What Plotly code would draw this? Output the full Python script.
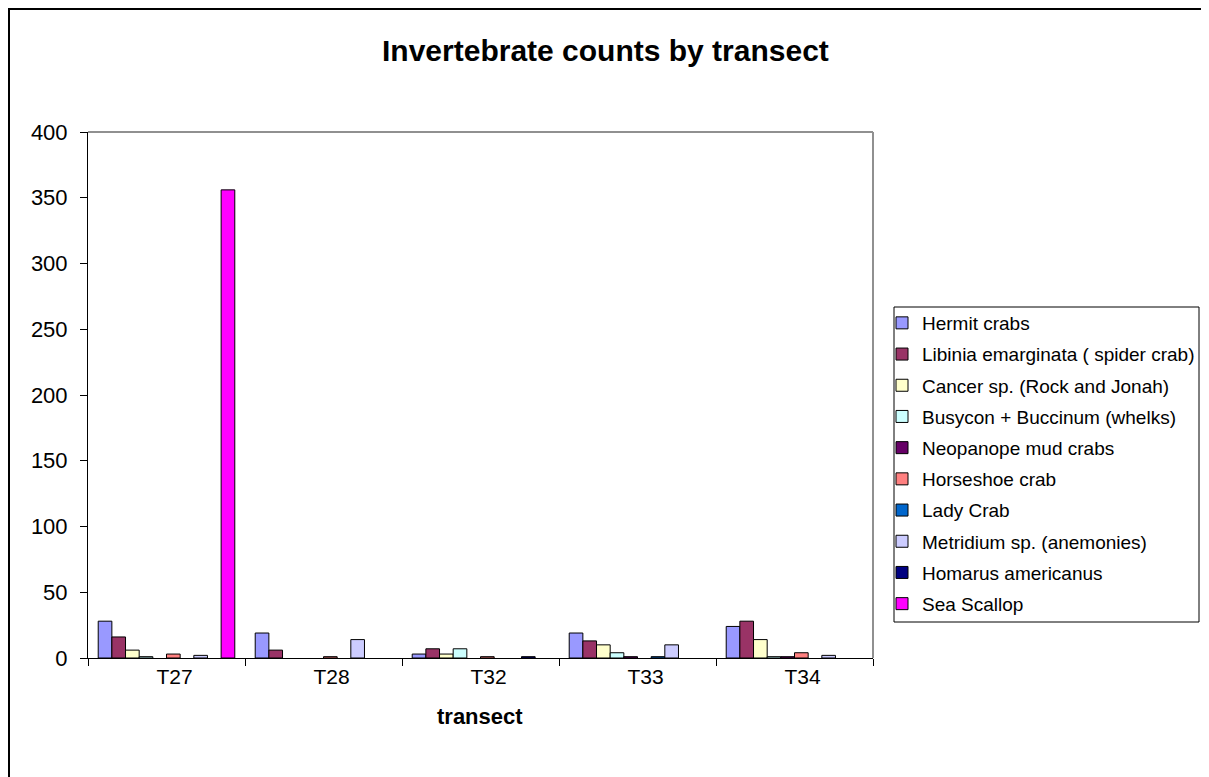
import plotly.graph_objects as go

transects = ["T27", "T28", "T32", "T33", "T34"]
series_names = [
    "Hermit crabs",
    "Libinia emarginata ( spider crab)",
    "Cancer sp. (Rock and Jonah)",
    "Busycon + Buccinum (whelks)",
    "Neopanope mud crabs",
    "Horseshoe crab",
    "Lady Crab",
    "Metridium sp. (anemonies)",
    "Homarus americanus",
    "Sea Scallop",
]
hermit = [28, 19, 3, 19, 24]
libinia = [16, 6, 7, 13, 28]
cancer = [6, 0, 3, 10, 14]
busycon = [1, 0, 7, 4, 1]
neopanope = [0, 0, 0, 1, 1]
horseshoe = [3, 1, 1, 0, 4]
lady = [0, 0, 0, 1, 0]
metridium = [2, 14, 0, 10, 2]
homarus = [0, 0, 1, 0, 0]
scallop = [356, 0, 0, 0, 0]
series_values = [hermit, libinia, cancer, busycon, neopanope, horseshoe,
                 lady, metridium, homarus, scallop]
colors = ["#9999FF", "#993366", "#FFFFCC", "#CCFFFF", "#660066",
          "#FF8080", "#0066CC", "#CCCCFF", "#000080", "#FF00FF"]
y_ticks = [0, 50, 100, 150, 200, 250, 300, 350, 400]

FONT = "Liberation Sans, Arial, sans-serif"

fig = go.Figure()
for i, (name, vals, col) in enumerate(zip(series_names, series_values, colors)):
    fig.add_trace(go.Bar(
        x=transects, y=[v if v else None for v in vals], name=name,
        legendgroup=f"g{i}",
        marker=dict(color=col, line=dict(color="black", width=1)),
    ))

# page offset (body margin) of 8px
OFF = 8
W, H = 1209 - OFF, 777 - OFF
L, R, T, B = 88 - OFF, 873 - OFF, 132 - OFF, 658 - OFF
pw, ph = R - L, B - T


def px(x):  # page x -> paper x
    return (x - OFF - L) / pw


def py(y):  # page y -> paper y
    return (B - (y - OFF)) / ph


fig.update_layout(
    width=W, height=H,
    margin=dict(l=L, r=W - R, t=T, b=H - B, autoexpand=False),
    paper_bgcolor="white", plot_bgcolor="white",
    barmode="group", bargap=0.13, bargroupgap=0,
    font=dict(family=FONT, color="black"),
    showlegend=True,
    legend=dict(
        x=px(882), y=py(304), xanchor="left", yanchor="top",
        borderwidth=0, bgcolor="rgba(0,0,0,0)",
        font=dict(size=19, family=FONT),
        traceorder="grouped", tracegroupgap=3.5,
        itemwidth=30,
    ),
    xaxis=dict(
        type="category", showline=True, linecolor="black", linewidth=1,
        ticks="outside", ticklen=7, tickcolor="black", tickson="boundaries",
        tickfont=dict(size=21, family=FONT), showgrid=False,
        zeroline=False, ticklabelshift=8,
    ),
    yaxis=dict(
        range=[0, 400], tickvals=y_ticks, showline=True, linecolor="black",
        linewidth=1, ticks="outside", ticklen=7, tickcolor="black",
        tickfont=dict(size=22, family=FONT), showgrid=False, zeroline=False,
        ticklabelstandoff=8,
    ),
    annotations=[
        dict(text="<b>Invertebrate counts by transect</b>", xref="paper", yref="paper",
             x=px(605), y=py(50), xanchor="center", yanchor="middle",
             showarrow=False, font=dict(size=30, family=FONT)),
        dict(text="<b>transect</b>", xref="paper", yref="paper",
             x=px(480), y=py(716), xanchor="center", yanchor="middle",
             showarrow=False, font=dict(size=22, family=FONT)),
    ],
    shapes=[
        dict(type="line", xref="paper", yref="paper", x0=0, x1=1, y0=1, y1=1,
             line=dict(color="#909090", width=2)),
        dict(type="line", xref="paper", yref="paper", x0=1, x1=1, y0=0, y1=1,
             line=dict(color="#909090", width=2)),
        dict(type="rect", xref="paper", yref="paper",
             x0=px(894), x1=px(1199), y0=py(622), y1=py(307),
             line=dict(color="black", width=1), fillcolor="rgba(0,0,0,0)"),
        dict(type="rect", xref="paper", yref="paper",
             x0=px(9), x1=px(1206), y0=py(800), y1=py(9),
             line=dict(color="black", width=2), fillcolor="rgba(0,0,0,0)"),
    ],
)

fig.write_html("out.html")
